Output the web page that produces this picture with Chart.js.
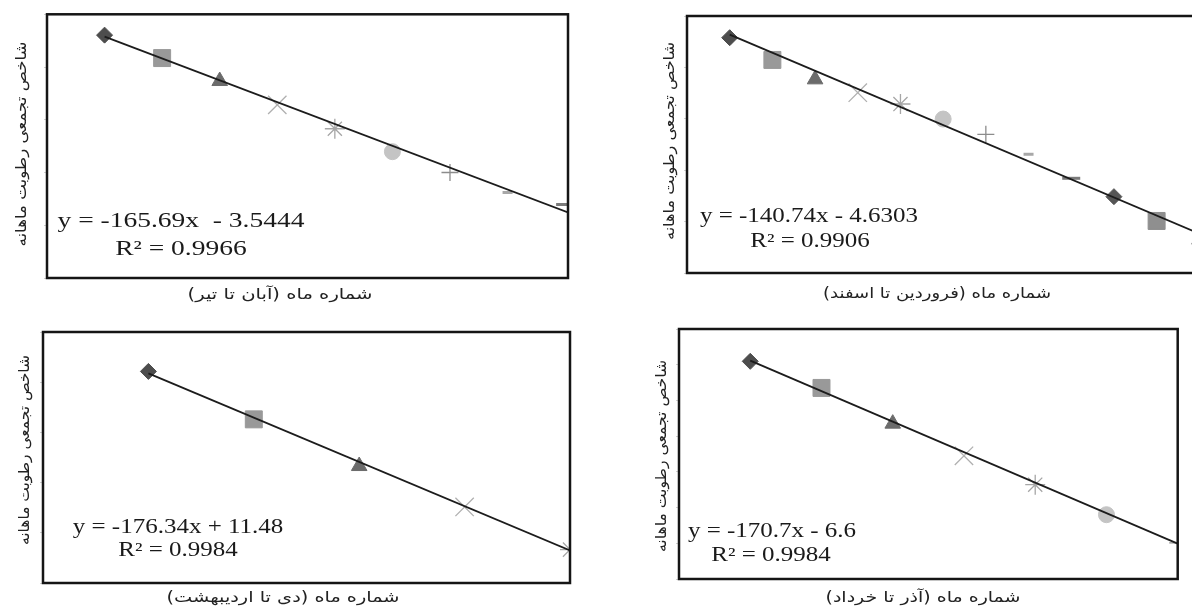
<!DOCTYPE html>
<html><head><meta charset="utf-8">
<script src="https://cdn.jsdelivr.net/npm/chart.js@4.4.0/dist/chart.umd.min.js"></script>
<style>
html,body{margin:0;padding:0;background:#fff;overflow:hidden;width:1192px;height:610px;position:relative;}
canvas{position:absolute;}
</style></head><body>
<canvas id="cTL"></canvas>
<canvas id="cTR"></canvas>
<canvas id="cBL"></canvas>
<canvas id="cBR"></canvas>
<script>
// ---------- DATA ----------
const yAxisTitle = 'شاخص تجمعی رطوبت ماهانه';

const xTitleTL = 'شماره ماه (آبان تا تیر)';
const monthsTL = [1, 2, 3, 4, 5, 6, 7, 8, 9];
const valuesTL = [-158, -332, -506, -687, -868, -1042, -1200, -1351, -1442];
const trendTL = [-165.69, -3.5444];
const eqTL = 'y = -165.69x  - 3.5444';
const r2TL = 'R² = 0.9966';

const xTitleTR = 'شماره ماه (فروردین تا اسفند)';
const monthsTR = [1, 2, 3, 4, 5, 6, 7, 8, 9, 10, 11, 12];
const valuesTR = [-169, -342, -493, -597, -685, -802, -921, -1076, -1263, -1406, -1595, -1740];
const trendTR = [-140.74, -4.6303];
const eqTR = 'y = -140.74x - 4.6303';
const r2TR = 'R² = 0.9906';

const xTitleBL = 'شماره ماه (دی تا اردیبهشت)';
const monthsBL = [1, 2, 3, 4, 5];
const valuesBL = [-157, -348, -534, -697, -867];
const trendBL = [-176.34, 11.48];
const eqBL = 'y = -176.34x + 11.48';
const r2BL = 'R² = 0.9984';

const xTitleBR = 'شماره ماه (آذر تا خرداد)';
const monthsBR = [1, 2, 3, 4, 5, 6, 7];
const valuesBR = [-181, -330, -530, -710, -872, -1040, -1198];
const trendBR = [-170.7, -6.6];
const eqBR = 'y = -170.7x - 6.6';
const r2BR = 'R² = 0.9984';

// ---------- STYLES (Excel default marker cycle, grayscale) ----------
const markerCycle = [
  {shape:'rectRot',  r:8,   fill:'#4d4d4d', stroke:'#4d4d4d', w:1},
  {shape:'rect',     r:12,  fill:'#999999', stroke:'#999999', w:1},
  {shape:'triangle', r:9,   fill:'#6b6b6b', stroke:'#6b6b6b', w:1},
  {shape:'crossRot', r:13,  fill:'#b0b0b0', stroke:'#b0b0b0', w:1.3},
  {shape:'star',     r:10,  fill:'#a6a6a6', stroke:'#a6a6a6', w:1.3},
  {shape:'circle',   r:8,   fill:'#c4c4c4', stroke:'#c4c4c4', w:1},
  {shape:'cross',    r:8.5, fill:'#8c8c8c', stroke:'#8c8c8c', w:1.3},
  {shape:'line',     r:5,   fill:'#a8a8a8', stroke:'#a8a8a8', w:3},
  {shape:'line',     r:9,   fill:'#7a7a7a', stroke:'#7a7a7a', w:3},
  {shape:'rectRot',  r:8,   fill:'#555555', stroke:'#555555', w:1},
  {shape:'rect',     r:12,  fill:'#8f8f8f', stroke:'#8f8f8f', w:1},
  {shape:'triangle', r:9,   fill:'#9a9a9a', stroke:'#9a9a9a', w:1}
];

function drawText(ctx, text, x, y, font, o) {
  ctx.save();
  ctx.font = font;
  ctx.direction = o.rtl ? 'rtl' : 'ltr';
  ctx.textAlign = 'center';
  ctx.textBaseline = o.baseline || 'alphabetic';
  ctx.fillStyle = o.color || '#1a1a1a';
  const w = ctx.measureText(text).width;
  const s = o.length ? o.length / w : (o.scaleX || 1);
  ctx.translate(x, y);
  if (o.rotate) ctx.rotate(-Math.PI / 2);
  ctx.scale(s, 1);
  ctx.fillText(text, 0, 0);
  ctx.restore();
}

const decoPlugin = {
  id: 'deco',
  afterDraw(chart) {
    const o = chart.options.plugins.deco;
    const {ctx, chartArea: a} = chart;
    const L = o.L;
    ctx.save();
    ctx.strokeStyle = '#151515';
    ctx.lineWidth = 2.5;
    ctx.strokeRect(a.left, a.top, a.right - a.left, a.bottom - a.top);
    ctx.restore();
    const serif = 'px "Liberation Serif", "Times New Roman", serif';
    drawText(ctx, o.eq, o.eqPos[0] - L.left, o.eqPos[1] - L.top, o.eqFont + serif, {scaleX: 1.25});
    drawText(ctx, o.r2, o.r2Pos[0] - L.left, o.r2Pos[1] - L.top, o.eqFont + serif, {scaleX: 1.25});
    drawText(ctx, yAxisTitle, o.yT[0] - L.left, o.yT[1] - L.top, '15px "DejaVu Sans", sans-serif', {rtl:true, rotate:true, length:o.yT[2], baseline:'middle', color:'#222'});
    drawText(ctx, o.xTitle, o.xT[0] - L.left, o.xT[1] - L.top, '15px "DejaVu Sans", sans-serif', {rtl:true, length:o.xT[2], baseline:'middle', color:'#222'});
  }
};

function makePanel(id, L, months, values, trend, xMax, yMin, yStep, texts) {
  const cv = document.getElementById(id);
  cv.width = L.w; cv.height = L.h;
  cv.style.left = L.left + 'px'; cv.style.top = L.top + 'px';
  const st = months.map((m, i) => markerCycle[i % markerCycle.length]);
  const f = x => trend[0] * x + trend[1];
  new Chart(cv, {
    type: 'scatter',
    data: {
      datasets: [
        {
          data: [{x: months[0], y: f(months[0])}, {x: xMax, y: f(xMax)}],
          showLine: true, borderColor: '#1c1c1c', borderWidth: 1.8,
          pointRadius: 0, clip: 0, order: 0
        },
        {
          data: months.map((m, i) => ({x: m, y: values[i]})),
          pointStyle: st.map(s => s.shape),
          pointRadius: st.map(s => s.r),
          pointBackgroundColor: st.map(s => s.fill),
          pointBorderColor: st.map(s => s.stroke),
          pointBorderWidth: st.map(s => s.w),
          showLine: false, clip: 0, order: 1
        }
      ]
    },
    options: {
      responsive: false, animation: false, devicePixelRatio: 1,
      layout: {padding: L.pad},
      plugins: {
        legend: {display: false}, tooltip: {enabled: false},
        deco: Object.assign({L: L}, texts)
      },
      scales: {
        x: {type: 'linear', min: 0, max: xMax,
            ticks: {display: false}, grid: {display: false}, border: {display: false},
            afterFit(s) { s.height = 0; }},
        y: {type: 'linear', min: yMin, max: 0,
            ticks: {display: false, stepSize: yStep},
            grid: {drawOnChartArea: false, drawTicks: true, tickLength: 3, color: '#d0d0d0'},
            border: {display: false},
            afterFit(s) { s.width = 0; }}
      }
    },
    plugins: [decoPlugin]
  });
}

makePanel('cTL', {left:0, top:0, w:600, h:305, pad:{left:47, top:13, right:32, bottom:27}},
  monthsTL, valuesTL, trendTL, 9.05, -2000, 400,
  {eq:eqTL, r2:r2TL, eqPos:[181,227], r2Pos:[181,255], eqFont:22,
   xTitle:xTitleTL, yT:[22,144,205], xT:[280,295,185]});

makePanel('cTR', {left:600, top:0, w:680, h:310, pad:{left:87, top:16, right:38, bottom:37}},
  monthsTR, valuesTR, trendTR, 13, -2000, 400,
  {eq:eqTR, r2:r2TR, eqPos:[809,222], r2Pos:[810,247], eqFont:20,
   xTitle:xTitleTR, yT:[670,141,198], xT:[937,294,228]});

makePanel('cBL', {left:0, top:305, w:600, h:305, pad:{left:43, top:27, right:30, bottom:27}},
  monthsBL, valuesBL, trendBL, 5, -1000, 200,
  {eq:eqBL, r2:r2BL, eqPos:[178,533], r2Pos:[178,556], eqFont:20,
   xTitle:xTitleBL, yT:[25,450,190], xT:[283,598,233]});

makePanel('cBR', {left:600, top:305, w:592, h:305, pad:{left:79, top:24, right:4, bottom:31}},
  monthsBR, valuesBR, trendBR, 7, -1400, 200,
  {eq:eqBR, r2:r2BR, eqPos:[772,537], r2Pos:[771,561], eqFont:20,
   xTitle:xTitleBR, yT:[662,456,192], xT:[923,598,195]});
</script>
</body></html>
